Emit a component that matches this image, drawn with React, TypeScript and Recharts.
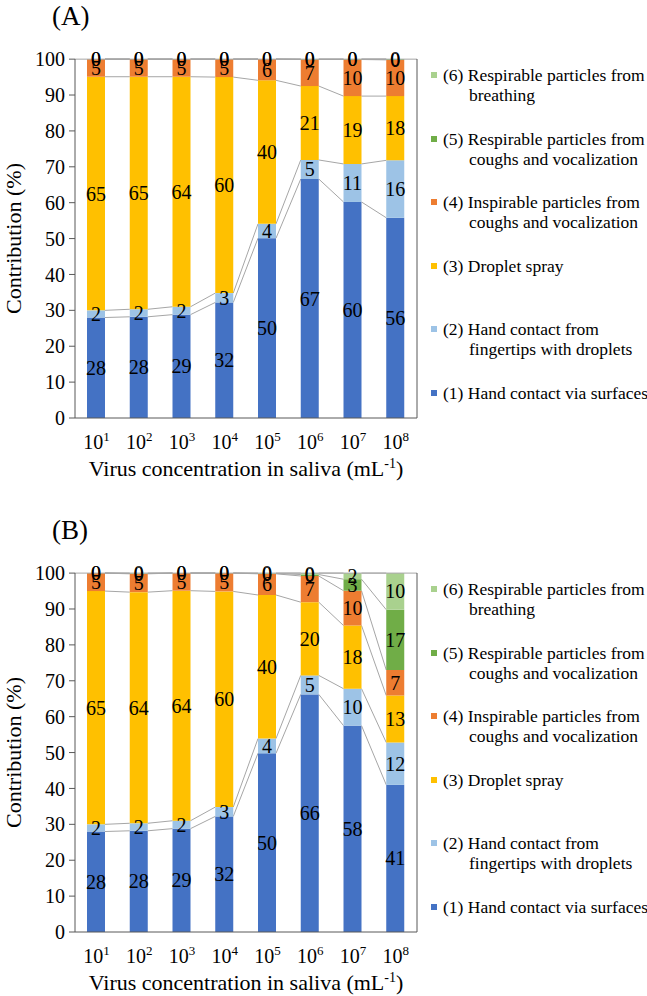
import React from "react";
import { Bar, BarChart, LabelList, ReferenceLine, XAxis, YAxis } from "recharts";

const FONT = "serif";

const CONC_EXP = ["1", "2", "3", "4", "5", "6", "7", "8"];
const Y_TICKS = [0, 10, 20, 30, 40, 50, 60, 70, 80, 90, 100];

const SERIES_NAMES = [
  ["(1) Hand contact via surfaces"],
  ["(2) Hand contact from", "fingertips with droplets"],
  ["(3) Droplet spray"],
  ["(4) Inspirable particles from", "coughs and vocalization"],
  ["(5) Respirable particles from", "coughs and vocalization"],
  ["(6) Respirable particles from", "breathing"],
];
const SERIES_COLORS = ["#4472C4", "#9DC3E6", "#FFC000", "#ED7D31", "#70AD47", "#A9D18E"];

// panel A
const A_SURFACES = [28, 28.2, 28.8, 32.2, 50.1, 66.6, 60.2, 55.8];
const A_FINGERTIPS = [2, 2.1, 2.2, 2.6, 4.0, 5.3, 10.6, 16.0];
const A_SPRAY = [65.1, 64.8, 64.1, 60.2, 40.0, 20.6, 18.9, 17.9];
const A_INSPIRABLE = [4.9, 4.9, 4.9, 5.0, 5.9, 7.4, 10.2, 10.1];
const A_RESP_COUGH = [0.02, 0.02, 0.02, 0.02, 0.03, 0.1, 0.1, 0.2];
const A_RESP_BREATH = [0.01, 0.01, 0.01, 0.01, 0.01, 0.02, 0.02, 0.02];

// panel B
const B_SURFACES = [28, 28.2, 28.8, 32.2, 49.8, 66.2, 57.5, 41.0];
const B_FINGERTIPS = [2, 2.1, 2.2, 2.6, 4.1, 5.3, 10.3, 11.8];
const B_SPRAY = [65.0, 64.4, 64.1, 60.1, 40.0, 20.4, 17.6, 13.1];
const B_INSPIRABLE = [5.0, 5.1, 4.9, 5.1, 5.9, 7.3, 9.7, 7.1];
const B_RESP_COUGH = [0.02, 0.1, 0.02, 0.02, 0.1, 0.4, 3.2, 16.8];
const B_RESP_BREATH = [0.01, 0.1, 0.01, 0.01, 0.1, 0.4, 1.7, 10.2];

const CHART_W = 647;
const PANEL_H = 514;
const MARGIN = { top: 59, right: 229, left: 21, bottom: 36 };
const Y_AXIS_W = 54;
const PLOT_W = CHART_W - MARGIN.left - MARGIN.right - Y_AXIS_W - 1;
const AXIS_COLOR = "#595959";
const SERIES_LINE = "#a6a6a6";

const KEYS = ["s1", "s2", "s3", "s4", "s5", "s6"];

function XTick({ x, y, payload }: any) {
  return (
    <text x={x} y={y + 31} textAnchor="middle" fontFamily={FONT} fontSize={20} fill="#000">
      10
      <tspan dy={-8} fontSize={13}>
        {payload.value}
      </tspan>
    </text>
  );
}

function XTitle({ viewBox }: any) {
  const cx = viewBox.x + viewBox.width / 2;
  return (
    <text x={cx} y={viewBox.y + 58} textAnchor="middle" fontFamily={FONT} fontSize={22} fill="#000">
      Virus concentration in saliva (mL
      <tspan dy={-8} fontSize={14}>
        -1
      </tspan>
      <tspan dy={8}>)</tspan>
    </text>
  );
}

function YTitle({ viewBox }: any) {
  const cy = viewBox.y + viewBox.height / 2;
  const cx = 13;
  return (
    <text
      x={cx}
      y={cy}
      transform={`rotate(-90, ${cx}, ${cy})`}
      textAnchor="middle"
      dominantBaseline="central"
      fontFamily={FONT}
      fontSize={22}
      fill="#000"
    >
      Contribution (%)
    </text>
  );
}

// first series draws the Excel-style series lines between neighbouring bars
function makeBaseShape(levels: number[][], base: number[]) {
  return (props: any) => {
    const { x, y, width, height, index, fill } = props;
    const bottom = y + height;
    const k = height / base[index];
    const step = PLOT_W / CONC_EXP.length;
    const lines =
      index < base.length - 1
        ? levels.map((lv, li) => (
            <line
              key={li}
              x1={x + width}
              y1={bottom - lv[index] * k}
              x2={x + step}
              y2={bottom - lv[index + 1] * k}
              stroke={SERIES_LINE}
              strokeWidth={1}
            />
          ))
        : null;
    return (
      <g>
        <rect x={x} y={y} width={width} height={height} fill={fill} />
        {lines}
      </g>
    );
  };
}

function SegLabel(props: any) {
  const { x, y, width, height, value } = props;
  return (
    <text
      x={x + width / 2}
      y={y + height / 2}
      textAnchor="middle"
      dominantBaseline="central"
      fontFamily={FONT}
      fontSize={20}
      fill="#000"
    >
      {Math.round(Number(value))}
    </text>
  );
}

function Legend() {
  const order = [5, 4, 3, 2, 1, 0];
  return (
    <div style={{ position: "absolute", left: 430, top: 0, fontFamily: FONT, fontSize: 17.5, color: "#000" }}>
      {order.map((si, i) => (
        <div key={si} style={{ position: "absolute", top: 65 + i * 63.6, left: 0, width: 217, lineHeight: "20px" }}>
          <span
            style={{
              position: "absolute",
              left: 1,
              top: 7,
              width: 6,
              height: 6,
              background: SERIES_COLORS[si],
            }}
          />
          <div style={{ paddingLeft: 13, whiteSpace: "nowrap" }}>{SERIES_NAMES[si][0]}</div>
          {SERIES_NAMES[si][1] && (
            <div style={{ paddingLeft: 39, whiteSpace: "nowrap" }}>{SERIES_NAMES[si][1]}</div>
          )}
        </div>
      ))}
    </div>
  );
}

function Panel({ title, series, top }: { title: string; series: number[][]; top: number }) {
  const data = CONC_EXP.map((e, i) => {
    const row: any = { exp: e };
    series.forEach((s, si) => (row[KEYS[si]] = s[i]));
    return row;
  });
  const levels = series.map((_, si) =>
    CONC_EXP.map((_, i) => series.slice(0, si + 1).reduce((acc, s) => acc + s[i], 0))
  );
  const baseShape = makeBaseShape(levels, series[0]);
  return (
    <div style={{ position: "absolute", left: 0, top, width: CHART_W, height: PANEL_H }}>
      <div style={{ position: "absolute", left: 52, top: 1, fontFamily: FONT, fontSize: 27, lineHeight: "30px" }}>
        {title}
      </div>
      <BarChart width={CHART_W} height={PANEL_H} data={data} margin={MARGIN} barSize={18}>
        <XAxis
          dataKey="exp"
          tick={<XTick />}
          tickLine={false}
          tickSize={0}
          tickMargin={0}
          height={60}
          axisLine={{ stroke: AXIS_COLOR }}
          interval={0}
          label={<XTitle />}
        />
        <YAxis
          domain={[0, 100]}
          ticks={Y_TICKS}
          interval={0}
          width={Y_AXIS_W}
          tickSize={6}
          tickMargin={4}
          axisLine={{ stroke: AXIS_COLOR }}
          tickLine={{ stroke: AXIS_COLOR }}
          tick={{ fontSize: 20, fill: "#000", fontFamily: FONT }}
          label={<YTitle />}
        />
        <YAxis
          yAxisId="border"
          orientation="right"
          width={1}
          tick={false}
          tickLine={false}
          axisLine={{ stroke: AXIS_COLOR }}
          domain={[0, 100]}
        />
        <ReferenceLine y={100} stroke={SERIES_LINE} strokeWidth={1} />
        {KEYS.map((k, si) => (
          <Bar
            key={k}
            dataKey={k}
            stackId="a"
            fill={SERIES_COLORS[si]}
            isAnimationActive={false}
            shape={si === 0 ? baseShape : undefined}
          >
            <LabelList dataKey={k} content={<SegLabel />} />
          </Bar>
        ))}
      </BarChart>
      <Legend />
    </div>
  );
}

export default function App() {
  const seriesA = [A_SURFACES, A_FINGERTIPS, A_SPRAY, A_INSPIRABLE, A_RESP_COUGH, A_RESP_BREATH];
  const seriesB = [B_SURFACES, B_FINGERTIPS, B_SPRAY, B_INSPIRABLE, B_RESP_COUGH, B_RESP_BREATH];
  return (
    <div style={{ position: "absolute", left: 0, top: 0, width: CHART_W, height: 996, background: "#fff" }}>
      <Panel title="(A)" series={seriesA} top={0} />
      <Panel title="(B)" series={seriesB} top={PANEL_H} />
    </div>
  );
}
